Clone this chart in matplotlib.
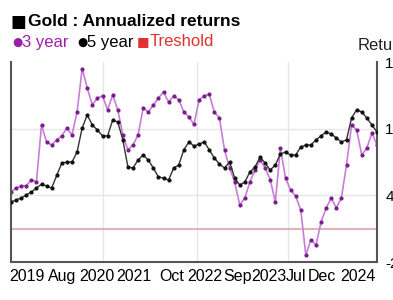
import numpy as np
import matplotlib
matplotlib.use("Agg")
import matplotlib.pyplot as plt

plt.rcParams['font.family'] = ['Liberation Sans', 'DejaVu Sans']

# months since start of the series
months = list(range(73))

ret_3y = [4.3, 4.66, 4.85, 4.85, 5.4, 5.2, 10.33, 8.8, 8.53, 9.0,
          9.35, 10.06, 9.43, 11.5, 15.4, 13.66, 12.13, 12.76, 12.95, 11.7,
          13.03, 11.7, 9.43, 8.1, 8.53, 9.43, 11.86, 11.5, 12.13, 12.76,
          13.3, 12.4, 12.95, 12.6, 11.5, 11.05, 10.4, 12.6, 12.95, 13.1,
          11.5, 10.96, 8.1, 6.46, 5.2, 3.13, 3.76, 5.2, 6.28, 7.18,
          6.46, 5.4, 3.4, 8.26, 5.56, 4.48, 3.94, 2.68, -1.37, 0.0,
          -0.47, 1.6, 2.86, 3.76, 2.86, 3.76, 6.73, 10.33, 9.88, 7.63,
          8.26, 9.6, 8.53]

ret_5y = [3.4, 3.58, 3.76, 4.03, 4.3, 4.66, 5.0, 4.84, 4.66, 5.8,
          6.9, 7.0, 7.0, 7.9, 10.06, 11.23, 10.33, 9.88, 9.35, 9.35,
          10.78, 10.6, 9.0, 6.55, 6.46, 7.18, 7.63, 7.18, 6.46, 5.65,
          5.56, 5.38, 6.46, 6.73, 8.1, 8.8, 8.44, 8.62, 8.8, 8.1,
          7.36, 6.82, 6.46, 7.0, 5.56, 4.93, 5.2, 6.1, 6.55, 7.45,
          6.9, 6.28, 6.73, 7.72, 7.9, 7.63, 7.63, 8.35, 8.53, 8.53,
          9.0, 9.35, 9.7, 9.52, 9.16, 8.8, 9.0, 10.96, 11.7, 11.5,
          10.96, 10.33, 9.7]

threshold = 1.0

tick_pos = [3.1, 10.0, 16.9, 24.2, 31.7, 38.2, 44.5, 50.8, 56.1, 61.2, 68.3]
tick_lab = ['2019', 'Aug', '2020', '2021', 'Oct', '2022', 'Sep', '2023',
            'Jul', 'Dec', '2024']
ytick_pos = [16, 10, 4, -2]
vgrid = [18, 36.5, 54.5]

fig = plt.figure(figsize=(3.93, 3.0), dpi=100)
ax = fig.add_axes([11 / 393, 38 / 300, 366 / 393, 200 / 300])

for v in vgrid:
    ax.axvline(v, color='#e6e6e6', lw=1, zorder=0)
for v in [10, 4]:
    ax.axhline(v, color='#e6e6e6', lw=1, zorder=0)

ax.axhline(threshold, color='#e2b4b8', lw=1.5, zorder=1)

ax.plot(months, ret_5y, color='#333333', lw=1, marker='o', ms=2,
        mfc='#111111', mec='#111111', zorder=3)
ax.plot(months, ret_3y, color='#c77fd6', lw=1.2, marker='o', ms=2,
        mfc='#7a1c8c', mec='#7a1c8c', zorder=2)

ax.set_xlim(0, 72)
ax.set_ylim(-2, 16)
ax.set_xticks(tick_pos)
ax.set_xticklabels(tick_lab, fontsize=11.5)
ax.yaxis.tick_right()
ax.set_yticks(ytick_pos)
ax.set_yticklabels([str(v) for v in ytick_pos], fontsize=11)
ax.tick_params(axis='y', length=0, pad=6)
ax.tick_params(axis='x', length=0, pad=5)

ax.spines['top'].set_visible(False)
for s in ['left', 'right', 'bottom']:
    ax.spines[s].set_color('#555555')
    ax.spines[s].set_linewidth(1.5)

fig.text(11 / 393, 1 - 22 / 300, '■', fontsize=12, color='black',
         va='center', ha='left', family=['DejaVu Sans'])
fig.text(28 / 393, 1 - 22 / 300, 'Gold : Annualized returns', fontsize=12.5,
         fontweight='bold', va='center', ha='left')

y_leg = 1 - 42 / 300
fig.text(12 / 393, y_leg, '●', color='#9b20a8', fontsize=8.5, va='center',
         family=['DejaVu Sans'])
fig.text(22 / 393, y_leg, '3 year', color='#9b20a8', fontsize=12, va='center')
fig.text(77 / 393, y_leg, '●', color='black', fontsize=8.5, va='center',
         family=['DejaVu Sans'])
fig.text(87 / 393, y_leg, '5 year', color='black', fontsize=12, va='center')
fig.text(137 / 393, y_leg, '■', color='#e03030', fontsize=9.5, va='center',
         family=['DejaVu Sans'])
fig.text(150 / 393, y_leg, 'Treshold', color='#e03030', fontsize=12,
         va='center')
fig.text(358 / 393, 1 - 46 / 300, 'Returns', color='#222222', fontsize=12,
         va='center')

fig.savefig('out.png', dpi=100)
